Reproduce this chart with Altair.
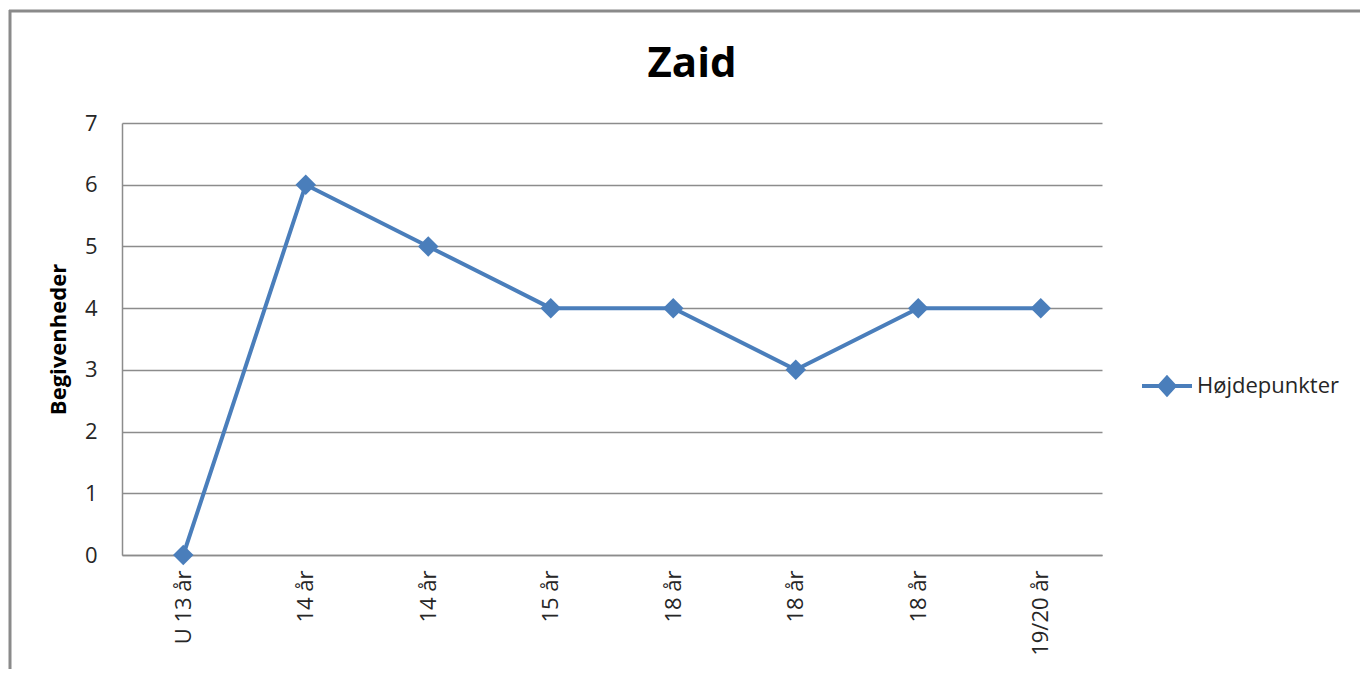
import altair as alt
import pandas as pd

categories = ["U 13 år", "14 år", "14 år", "15 år", "18 år", "18 år", "18 år", "19/20 år"]
values = [0, 6, 5, 4, 4, 3, 4, 4]
series_name = "Højdepunkter"
title_text = "Zaid"
y_title = "Begivenheder"

df = pd.DataFrame({"idx": list(range(len(categories))), "value": values,
                   "series": [series_name] * len(values)})

label_expr = "[" + ",".join("'" + c + "'" for c in categories) + "][datum.value]"

W, H = 980, 432
BLUE = "#4A7EBB"
GRID = "#8C8C8C"
FONT = "Open Sans"
TXT = "#262626"

x_enc = alt.X("idx:O", scale=alt.Scale(type="point", padding=0.5),
              axis=alt.Axis(title=None, labelExpr=label_expr, labelAngle=-90,
                            labelFontSize=22, labelColor=TXT, labelFont=FONT,
                            labelPadding=15, ticks=False, domainColor=GRID,
                            domainWidth=1.5, labelAlign="right", labelBaseline="middle"))
y_enc = alt.Y("value:Q", scale=alt.Scale(domain=[0, 7], nice=False),
              axis=alt.Axis(title=y_title, values=list(range(0, 8)), format="d", ticks=False,
                            labelFontSize=22, labelColor=TXT, labelFont=FONT,
                            labelPadding=25, grid=True, gridColor=GRID, gridWidth=1.5,
                            domainColor=GRID, domainWidth=1.5,
                            titleFontSize=22, titleFont=FONT, titleFontWeight="bold",
                            titleColor="#000", titlePadding=14))

legend_path = "M-1,0L1,0M0,-0.33L0.3,0L0,0.33L-0.3,0Z"
color_enc = alt.Color("series:N", scale=alt.Scale(range=[BLUE]),
                      legend=alt.Legend(title=None, orient="none", legendX=1018, legendY=236,
                                        symbolType=legend_path, symbolSize=2500,
                                        symbolStrokeWidth=4, symbolStrokeColor=BLUE,
                                        symbolFillColor=BLUE, labelFontSize=22,
                                        labelFont=FONT, labelColor=TXT, labelOffset=3))

base = alt.Chart(df)
line = base.mark_line(strokeWidth=4, color=BLUE).encode(x=x_enc, y=y_enc, color=color_enc)
pts = base.mark_point(shape="diamond", filled=True, size=420, opacity=1, color=BLUE).encode(
    x="idx:O", y="value:Q")

frame_df = pd.DataFrame({"k": [0]})
frame_left = alt.Chart(frame_df).mark_rule(color="#8A8A8A", strokeWidth=3).encode(
    x=alt.value(-112), y=alt.value(-113), y2=alt.value(H + 200))
frame_top = alt.Chart(frame_df).mark_rule(color="#8A8A8A", strokeWidth=3).encode(
    x=alt.value(-113), x2=alt.value(W + 300), y=alt.value(-112))

title_df = pd.DataFrame({"t": [title_text]})
title_mark = alt.Chart(title_df).mark_text(
    font=FONT, fontSize=42, fontWeight="bold", color="#000",
    align="center", baseline="alphabetic").encode(
    text="t:N", x=alt.value(570), y=alt.value(-46))

chart = alt.layer(frame_left, frame_top, line, pts, title_mark).properties(
    width=W, height=H,
    autosize=alt.AutoSizeParams(type="none"),
    padding={"left": 114, "top": 115, "right": 258, "bottom": 114},
).configure(background="white", view=alt.ViewConfig(strokeWidth=0, stroke=None))

chart.save("out.html", embed_options={"renderer": "svg", "actions": False})
